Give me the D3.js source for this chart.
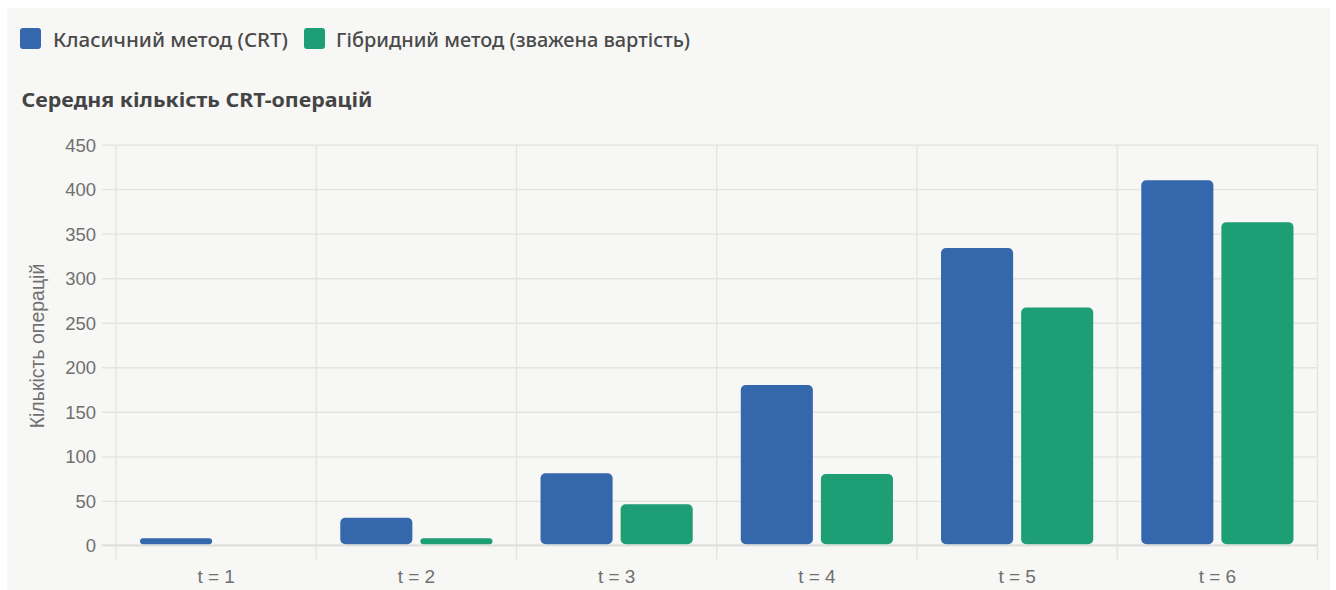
<!DOCTYPE html>
<html>
<head>
<meta charset="utf-8">
<script src="https://cdn.jsdelivr.net/npm/d3@7/dist/d3.min.js"></script>
<style>
  html, body { margin: 0; padding: 0; background: #ffffff; }
  svg { display: block; }
</style>
</head>
<body>
<svg id="chart" width="1336" height="590"></svg>
<script>
// Average number of CRT operations per threshold t
const categories = ["t = 1", "t = 2", "t = 3", "t = 4", "t = 5", "t = 6"];
const classicValues = [8, 31, 81, 180, 334, 410];
const hybridValues = [0, 8, 46, 80, 267, 363];
const seriesNames = ["Класичний метод (CRT)", "Гібридний метод (зважена вартість)"];
const seriesColors = ["#3467ac", "#1e9e74"];
const yTicks = [0, 50, 100, 150, 200, 250, 300, 350, 400, 450];
const titleText = "Середня кількість CRT-операцій";
const yAxisTitle = "Кількість операцій";

const svg = d3.select("#chart");
const W = 1336, H = 590;

// panel background
svg.append("rect").attr("x", 7).attr("y", 8).attr("width", 1323).attr("height", H - 8)
  .attr("fill", "#f7f7f5");

const plot = { left: 116, right: 1317.5, top: 144.7, bottom: 545.3 };

const x = d3.scaleBand().domain(categories).range([plot.left, plot.right]).padding(0);
const y = d3.scaleLinear().domain([0, 450]).range([plot.bottom, plot.top]);

const gridColor = "#e3e3e1";
const labelFont = "'Liberation Sans', Arial, sans-serif";
const uiFont = "'Noto Sans', 'Open Sans', sans-serif";

// horizontal grid with tick marks
const yAxis = d3.axisLeft(y).tickValues(yTicks).tickSize(-(plot.right - plot.left)).tickPadding(20).tickSizeOuter(0);
const gy = svg.append("g").attr("transform", `translate(${plot.left},0)`).call(yAxis);
gy.select(".domain").remove();
gy.selectAll(".tick line").attr("stroke", gridColor).attr("stroke-width", 1.3).attr("x1", -14);
gy.selectAll(".tick text").attr("font-family", labelFont).attr("font-size", 18.5)
  .attr("fill", "#707070").attr("x", -20).attr("dy", "0.35em");

// vertical grid at category boundaries
const bounds = categories.map(c => x(c)).concat([plot.right]);
svg.append("g").selectAll("line").data(bounds).join("line")
  .attr("x1", d => d).attr("x2", d => d)
  .attr("y1", plot.top).attr("y2", plot.bottom + 15)
  .attr("stroke", gridColor).attr("stroke-width", 1.3);

// baseline
svg.append("line").attr("x1", plot.left - 14).attr("x2", plot.right)
  .attr("y1", plot.bottom).attr("y2", plot.bottom)
  .attr("stroke", "#dcdcda").attr("stroke-width", 1.5);

// x labels
const xAxis = d3.axisBottom(x).tickSize(0).tickPadding(0);
const gx = svg.append("g").attr("transform", `translate(0,${plot.bottom})`).call(xAxis);
gx.select(".domain").remove();
gx.selectAll(".tick text").attr("font-family", labelFont).attr("font-size", 19)
  .attr("fill", "#707070").attr("y", 31).attr("dy", "0.35em");

// bars: 80% of category, split into two slots, 90% bar width per slot
const inner = d3.scaleBand().domain([0, 1]).range([0, x.bandwidth() * 0.8]).padding(0);
const barW = inner.bandwidth() * 0.9;
const offset = x.bandwidth() * 0.1 + inner.bandwidth() * 0.05;
const series = [classicValues, hybridValues];

series.forEach((vals, si) => {
  svg.append("g").selectAll("rect").data(vals.map((v, i) => ({ v, c: categories[i] })))
    .join("rect")
    .filter(d => d.v > 0)
    .attr("x", d => x(d.c) + offset + inner(si))
    .attr("y", d => y(d.v))
    .attr("width", barW)
    .attr("height", d => y(0) - y(d.v) - 1)
    .attr("rx", d => Math.min(5, (y(0) - y(d.v) - 1) / 2))
    .attr("fill", seriesColors[si]);
});

// y axis title
svg.append("text")
  .attr("transform", `translate(37,346) rotate(-90)`)
  .attr("text-anchor", "middle").attr("dy", "0.35em")
  .attr("font-family", labelFont).attr("font-size", 19.5).attr("fill", "#707070")
  .text(yAxisTitle);

// legend
const legendItems = [
  { box: 20, tx: 53, w: 235 },
  { box: 304, tx: 336, w: 354 }
];
legendItems.forEach((it, i) => {
  svg.append("rect").attr("x", it.box).attr("y", 28).attr("width", 21).attr("height", 21)
    .attr("rx", 3).attr("fill", seriesColors[i]);
  svg.append("text").attr("x", it.tx).attr("y", 47.3)
    .attr("font-family", uiFont).attr("font-size", 19.5).attr("font-weight", 500).attr("fill", "#4a4a4a")
    .attr("textLength", it.w).attr("lengthAdjust", "spacingAndGlyphs")
    .text(seriesNames[i]);
});

// title
svg.append("text").attr("x", 21.5).attr("y", 107.3)
  .attr("font-family", uiFont).attr("font-size", 19).attr("font-weight", "bold").attr("fill", "#444444")
  .attr("textLength", 351).attr("lengthAdjust", "spacingAndGlyphs")
  .text(titleText);
</script>
</body>
</html>
